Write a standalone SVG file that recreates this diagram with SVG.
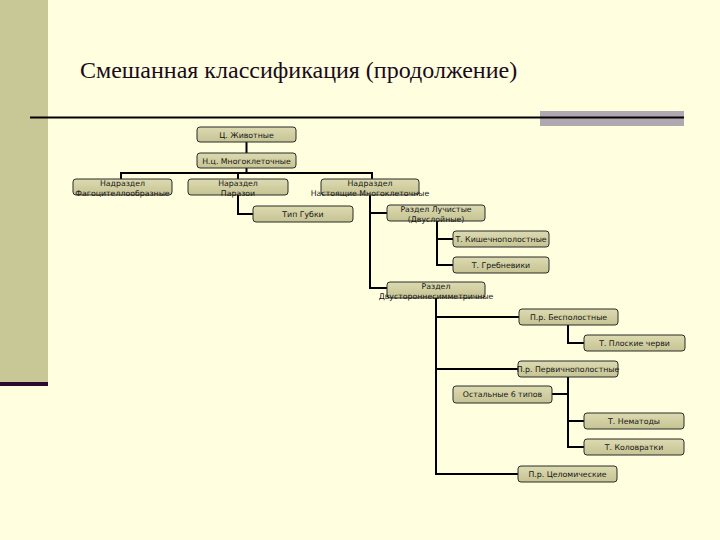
<svg xmlns="http://www.w3.org/2000/svg" width="720" height="540" viewBox="0 0 720 540">
<defs>
<linearGradient id="bg" x1="0" y1="0" x2="0" y2="1">
<stop offset="0" stop-color="#DCDAB0"/>
<stop offset="1" stop-color="#C6C494"/>
</linearGradient>
<style>
.box{fill:url(#bg);stroke:#2b2b2b;stroke-width:1}
.t{font-family:"DejaVu Sans","Liberation Sans",sans-serif;font-size:7.8px;fill:#141414;text-anchor:middle}
.c{fill:none;stroke:#000;stroke-width:2}
</style>
</defs>
<rect x="0" y="0" width="720" height="540" fill="#FFFFE0"/>
<rect x="0" y="0" width="48" height="382" fill="#C8C896"/>
<rect x="0" y="382" width="48" height="4" fill="#2A0A2E"/>
<rect x="540" y="111" width="144" height="15" fill="#B0A8B0"/>
<line x1="30" y1="117.5" x2="684" y2="117.5" stroke="#000" stroke-width="2.2"/>
<text x="80" y="78" font-family="Liberation Serif,serif" font-size="24" fill="#1a0a1a">Смешанная классификация (продолжение)</text>

<g id="connectors" class="c">
<path d="M246.5,142 V153"/>
<path d="M246.5,168 V173 M121,179 V173 H372 V179 M238,173 V179"/>
<path d="M238,195 V214 H253"/>
<path d="M370,195 V288 H387 M370,213 H387"/>
<path d="M437,221 V265 H453 M437,239 H453"/>
<path d="M436,298 V474 H518 M436,317 H519 M436,369 H518"/>
<path d="M568,325 V343 H584"/>
<path d="M568,377 V447 H584 M552,394 H568 M568,421 H584"/>
</g>

<g id="n1"><rect class="box" x="197" y="127" width="99" height="15" rx="3"/><text class="t" x="246.5" y="137.5">Ц. Животные</text></g>
<g id="n2"><rect class="box" x="197" y="153" width="99" height="15" rx="3"/><text class="t" x="246.5" y="163.5">Н.ц. Многоклеточные</text></g>
<g id="n3"><rect class="box" x="73" y="179" width="99" height="16" rx="3"/><text class="t" x="122.5" y="186">Надраздел</text><text class="t" x="122.5" y="195.5">Фагоцителлообразные</text></g>
<g id="n4"><rect class="box" x="188" y="179" width="100" height="16" rx="3"/><text class="t" x="238" y="186">Нараздел</text><text class="t" x="238" y="195.5">Паразои</text></g>
<g id="n5"><rect class="box" x="321" y="179" width="98" height="16" rx="3"/><text class="t" x="370" y="186">Надраздел</text><text class="t" x="370" y="195.5">Настоящие Многоклеточные</text></g>
<g id="n6"><rect class="box" x="253" y="206" width="100" height="16" rx="3"/><text class="t" x="303" y="216.5">Тип Губки</text></g>
<g id="n7"><rect class="box" x="387" y="205" width="98" height="16" rx="3"/><text class="t" x="436" y="212">Раздел Лучистые</text><text class="t" x="436" y="221.5">(Двуслойные)</text></g>
<g id="n8"><rect class="box" x="453" y="231" width="96" height="16" rx="3"/><text class="t" x="501" y="241.5">Т. Кишечнополостные</text></g>
<g id="n9"><rect class="box" x="453" y="257" width="96" height="16" rx="3"/><text class="t" x="501" y="267.5">Т. Гребневики</text></g>
<g id="n10"><rect class="box" x="387" y="282" width="98" height="16" rx="3"/><text class="t" x="436" y="289">Раздел</text><text class="t" x="436" y="298.5">Двустороннесимметричные</text></g>
<g id="n11"><rect class="box" x="519" y="309" width="99" height="16" rx="3"/><text class="t" x="568.5" y="319.5">П.р. Бесполостные</text></g>
<g id="n12"><rect class="box" x="584" y="335" width="101" height="16" rx="3"/><text class="t" x="634.5" y="345.5">Т. Плоские черви</text></g>
<g id="n13"><rect class="box" x="518" y="361" width="100" height="16" rx="3"/><text class="t" x="568" y="371.5">П.р. Первичнополостные</text></g>
<g id="n14"><rect class="box" x="453" y="386" width="99" height="17" rx="3"/><text class="t" x="502.5" y="397">Остальные 6 типов</text></g>
<g id="n15"><rect class="box" x="584" y="413" width="100" height="16" rx="3"/><text class="t" x="634" y="423.5">Т. Нематоды</text></g>
<g id="n16"><rect class="box" x="584" y="439" width="100" height="16" rx="3"/><text class="t" x="634" y="449.5">Т. Коловратки</text></g>
<g id="n17"><rect class="box" x="518" y="466" width="99" height="16" rx="3"/><text class="t" x="567.5" y="476.5">П.р. Целомические</text></g>
</svg>
